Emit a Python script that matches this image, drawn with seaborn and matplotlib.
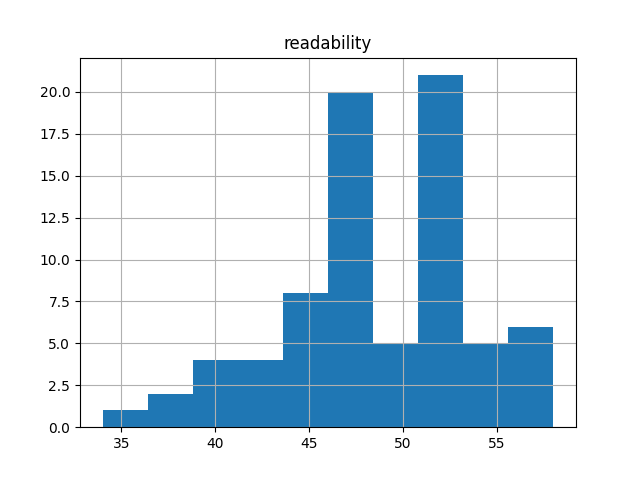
import numpy as np
import pandas as pd
import matplotlib
matplotlib.use("Agg")
import matplotlib.pyplot as plt
import seaborn as sns

# histogram of readability scores, 10 equal bins
bin_lo = 34.0
bin_hi = 58.0
counts = [1, 2, 4, 4, 8, 20, 5, 21, 5, 6]

edges = np.linspace(bin_lo, bin_hi, len(counts) + 1)
centers = (edges[:-1] + edges[1:]) / 2
df = pd.DataFrame({"readability": centers, "n": counts})

fig, ax = plt.subplots(figsize=(6.4, 4.8), dpi=100)
sns.histplot(data=df, x="readability", weights="n", bins=len(counts),
             binrange=(bin_lo, bin_hi),
             color="#1f77b4", alpha=1.0, linewidth=0, ax=ax)
ax.grid(True)
ax.set_title("readability")
ax.set_xlabel("")
ax.set_ylabel("")

plt.savefig("out.png", dpi=100)
